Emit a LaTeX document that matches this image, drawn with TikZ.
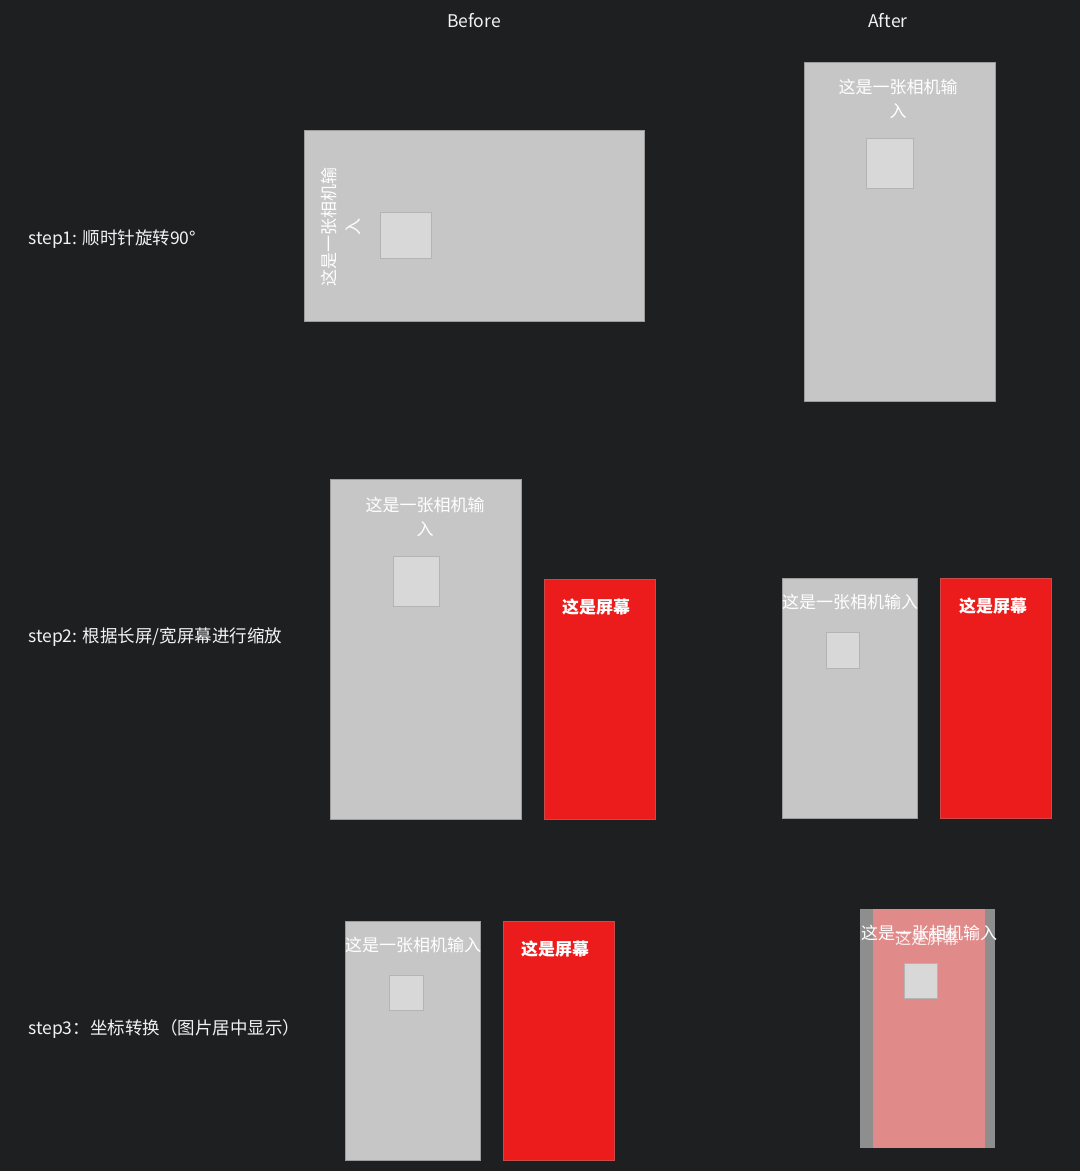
\documentclass[tikz,border=0pt]{standalone}
\usepackage{fontspec}
\setmainfont{Noto Sans CJK SC}
\definecolor{bg}{HTML}{1E1F21}
\definecolor{boxgray}{HTML}{C6C6C6}
\definecolor{boxedge}{HTML}{9C9C9C}
\definecolor{sqfill}{HTML}{D8D8D8}
\definecolor{sqedge}{HTML}{B4B4B4}
\definecolor{scrred}{HTML}{ED1C1C}
\definecolor{scredge}{HTML}{C84A4A}
\definecolor{pinkov}{HTML}{E08A8A}
\definecolor{darkgray}{HTML}{8E8E8E}
\definecolor{txt}{HTML}{F2F2F2}
\tikzset{
  camera/.style={fill=boxgray, draw=boxedge, line width=0.8pt},
  screen/.style={fill=scrred, draw=scredge, line width=0.8pt},
  thumb/.style={fill=sqfill, draw=sqedge, line width=0.8pt},
  boxtext/.style={text=white, font=\fontsize{17}{24.5}\selectfont, align=center, inner sep=0pt},
  scrtext/.style={text=white, font=\fontsize{17}{24}\selectfont\bfseries, inner sep=0pt},
  steplabel/.style={text=txt, font=\fontsize{17.5}{20}\selectfont, anchor=west, inner sep=0pt},
  header/.style={text=txt, font=\fontsize{17.5}{20}\selectfont, inner sep=0pt},
}
\begin{document}
\begin{tikzpicture}[x=1pt,y=-1pt]
\fill[bg] (0,0) rectangle (1080,1171);
\useasboundingbox (0,0) rectangle (1080,1171);

% headers
\node[header] (hbefore) at (474,21) {Before};
\node[header] (hafter) at (888,21) {After};

% step labels
\node[steplabel] (s1) at (28,239) {step1: 顺时针旋转90°};
\node[steplabel] (s2) at (28,637) {step2: 根据长屏/宽屏幕进行缩放};
\node[steplabel] (s3) at (28,1029) {step3：坐标转换（图片居中显示）};

% ---------- step 1 before ----------
\draw[camera] (304,130) rectangle (644,321);
\draw[thumb] (380,212) rectangle (431,258);
\node[boxtext, rotate=90] (t1b) at (341,227) {这是一张相机输\\入};

% ---------- step 1 after ----------
\draw[camera] (804,62) rectangle (995,401);
\draw[thumb] (866,138) rectangle (913,188);
\node[boxtext] (t1a) at (898,99) {这是一张相机输\\入};

% ---------- step 2 before ----------
\draw[camera] (330,479) rectangle (521,819);
\draw[thumb] (393,556) rectangle (439,606);
\node[boxtext] (t2b) at (425,517) {这是一张相机输\\入};
\draw[screen] (544,579) rectangle (655,819);
\node[scrtext] (s2b) at (596,607) {这是屏幕};

% ---------- step 2 after ----------
\draw[camera] (782,578) rectangle (917,818);
\draw[thumb] (826,632) rectangle (859,668);
\node[boxtext] (t2a) at (850,602) {这是一张相机输入};
\draw[screen] (940,578) rectangle (1051,818);
\node[scrtext] (s2a) at (993,606) {这是屏幕};

% ---------- step 3 before ----------
\draw[camera] (345,921) rectangle (480,1160);
\draw[thumb] (389,975) rectangle (423,1010);
\node[boxtext] (t3b) at (413,945) {这是一张相机输入};
\draw[screen] (503,921) rectangle (614,1160);
\node[scrtext] (s3b) at (555,949) {这是屏幕};

% ---------- step 3 after ----------
\fill[darkgray] (860,909) rectangle (995,1148);
\fill[pinkov] (873,909) rectangle (985,1148);
\draw[thumb] (904,963) rectangle (937,998);
\node[boxtext] (t3a) at (929,933) {这是一张相机输入};
\node[text=white, opacity=0.85, font=\fontsize{16}{20}\selectfont, inner sep=0pt] (s3a) at (927,938) {这是屏幕};
\end{tikzpicture}
\end{document}
